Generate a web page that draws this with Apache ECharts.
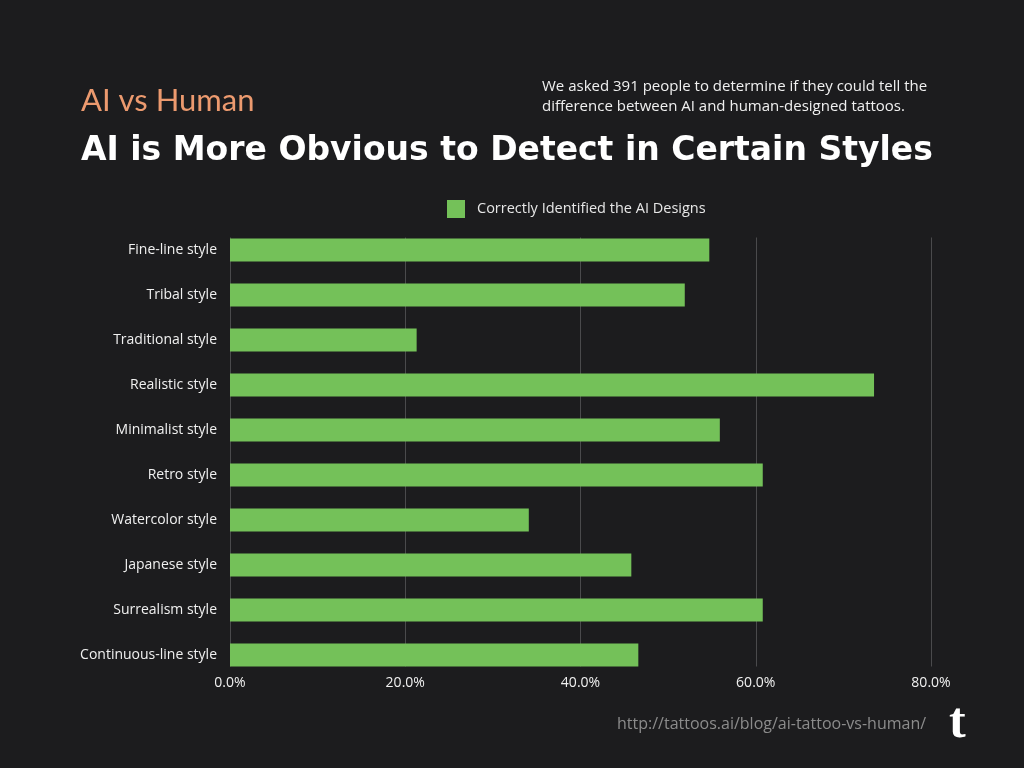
<!DOCTYPE html>
<html><head><meta charset="utf-8">
<script src="https://cdn.jsdelivr.net/npm/echarts@6/dist/echarts.min.js"></script>
<style>html,body{margin:0;padding:0;background:#1c1c1e;}#c{width:1024px;height:768px;}</style>
</head><body><div id="c"></div>
<script>
const categories = ["Fine-line style","Tribal style","Traditional style","Realistic style","Minimalist style","Retro style","Watercolor style","Japanese style","Surrealism style","Continuous-line style"];
const correctlyIdentified = [54.7, 51.9, 21.3, 73.5, 55.9, 60.8, 34.1, 45.8, 60.8, 46.6];
const xTicks = [0, 20, 40, 60, 80];
const seriesName = "Correctly Identified the AI Designs";

const chart = echarts.init(document.getElementById('c'));
const font = 'Open Sans';
chart.setOption({
  backgroundColor: '#1c1c1e',
  animation: false,
  title: [
    {text: 'AI vs Human', left: 76, top: 80, textStyle: {color: '#ec9a6f', fontFamily: 'Lato', fontWeight: 'normal', fontSize: 31}},
    {text: 'AI is More Obvious to Detect in Certain Styles', left: 76, top: 130, textStyle: {color: '#ffffff', fontFamily: 'DejaVu Sans', fontWeight: 'bold', fontSize: 33}},
    {text: 'We asked 391 people to determine if they could tell the\ndifference between AI and human-designed tattoos.', left: 537, top: 72, textStyle: {color: '#f0f0f0', fontFamily: font, fontWeight: 'normal', fontSize: 15, lineHeight: 20}},
    {text: 'http://tattoos.ai/blog/ai-tattoo-vs-human/', left: 612, top: 711, textStyle: {color: '#8c8c8c', fontFamily: font, fontWeight: 'normal', fontSize: 16}},
    {text: 't', left: 944, top: 694, textStyle: {color: '#ffffff', fontFamily: 'Liberation Serif', fontWeight: 'bold', fontSize: 50}}
  ],
  legend: {
    data: [seriesName], top: 195, left: 442, itemWidth: 18, itemHeight: 18, itemGap: 10,
    icon: 'rect',
    textStyle: {color: '#e6e6e6', fontFamily: font, fontSize: 14.5, padding: [0, 0, 0, 7]}
  },
  grid: [
    {left: 230, right: 93, top: 227.5, height: 450, containLabel: false},
    {left: 230, right: 93, top: 237.5, height: 429, containLabel: false}
  ],
  xAxis: [
    {gridIndex: 0, type: 'value', min: 0, max: 80, interval: 20, show: false},
    {gridIndex: 1, type: 'value', min: 0, max: 80, interval: 20,
     axisLine: {show: false}, axisTick: {show: false},
     splitLine: {show: true, lineStyle: {color: '#4a4a4c', width: 1}},
     axisLabel: {color: '#f0f0f0', fontFamily: font, fontSize: 14, margin: 10,
       formatter: v => xTicks.includes(v) ? v.toFixed(1) + '%' : ''}}
  ],
  yAxis: [
    {gridIndex: 0, type: 'category', data: categories, inverse: true,
     axisLine: {show: false}, axisTick: {show: false},
     axisLabel: {color: '#f0f0f0', fontFamily: font, fontSize: 14, margin: 13}},
    {gridIndex: 1, type: 'value', show: false}
  ],
  series: [{
    name: seriesName, type: 'bar', xAxisIndex: 0, yAxisIndex: 0,
    data: correctlyIdentified, barWidth: 23,
    itemStyle: {color: '#74c159'}, z: 3
  }]
});
</script></body></html>
